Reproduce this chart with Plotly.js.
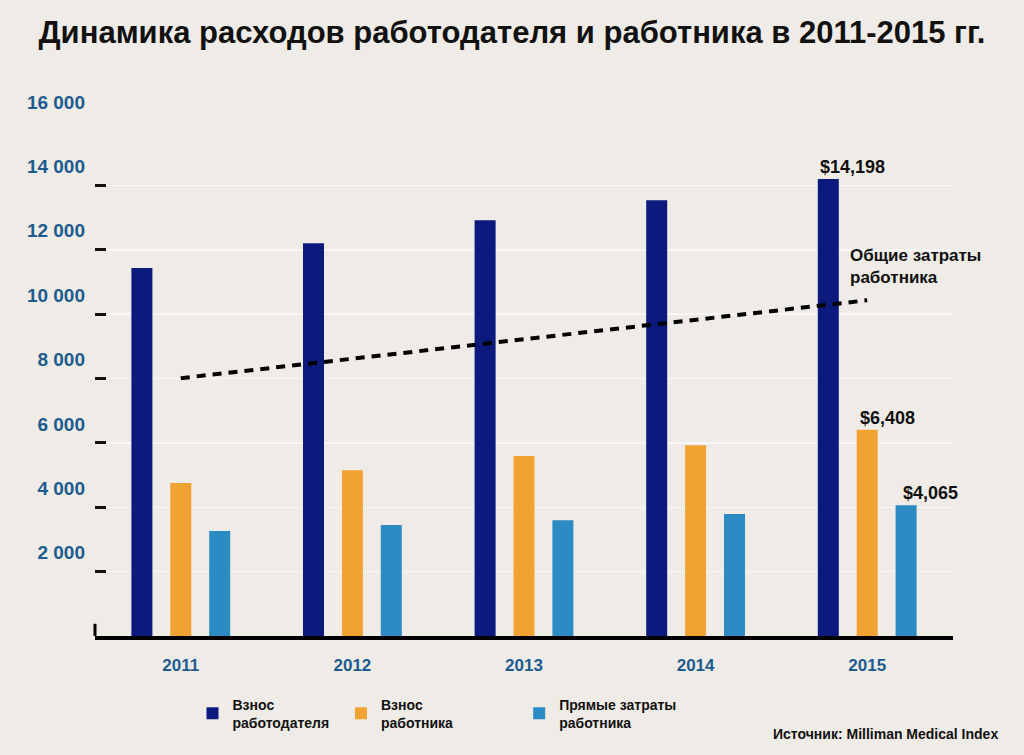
<!DOCTYPE html>
<html>
<head>
<meta charset="utf-8">
<script src="https://cdn.plot.ly/plotly-3.0.1.min.js"></script>
<style>
  html, body { margin: 0; padding: 0; background: #efece7; }
  #chart { width: 1024px; height: 755px; }
</style>
</head>
<body>
<div id="chart"></div>
<script>
// years and cost series (USD)
const years = ["2011", "2012", "2013", "2014", "2015"];
const employerContrib = [11430, 12200, 12920, 13540, 14198];
const employeeContrib = [4750, 5150, 5590, 5930, 6408];
const employeeOOP = [3260, 3450, 3600, 3790, 4065];
const employeeTotal = [8010, 8620, 9220, 9830, 10430];

const yTicks = [2000, 4000, 6000, 8000, 10000, 12000, 14000, 16000];
const yTickText = ["2 000", "4 000", "6 000", "8 000", "10 000", "12 000", "14 000", "16 000"];

const NAVY = "#0b1a7c";
const ORANGE = "#f0a233";
const LIGHTBLUE = "#2d8bc3";
const LABEL_BLUE = "#1d5b8e";
const FONT = "Liberation Sans, Arial, sans-serif";

const legendFont = { family: FONT, size: 14, color: "#111", weight: "bold" };

const traces = [
  {
    type: "bar",
    x: years,
    y: employerContrib,
    name: "Взнос<br>работодателя",
    marker: { color: NAVY },
    legend: "legend",
  },
  {
    type: "bar",
    x: years,
    y: employeeContrib,
    name: "Взнос<br>работника",
    marker: { color: ORANGE },
    legend: "legend2",
  },
  {
    type: "bar",
    x: years,
    y: employeeOOP,
    name: "Прямые затраты<br>работника",
    marker: { color: LIGHTBLUE },
    legend: "legend3",
  },
  {
    type: "scatter",
    mode: "lines",
    x: years,
    y: employeeTotal,
    line: { color: "#000", width: 4, dash: "9px,7px" },
    showlegend: false,
    hoverinfo: "skip",
  },
];

const last = years.length - 1;
const valueFont = { family: FONT, size: 18, color: "#111", weight: "bold" };

const legendBase = (x) => ({
  xref: "container",
  yref: "container",
  x: x,
  y: 0.055,
  yanchor: "middle",
  xanchor: "left",
  bgcolor: "rgba(0,0,0,0)",
  font: legendFont,
  itemwidth: 30,
});

const layout = {
  width: 1024,
  height: 755,
  paper_bgcolor: "#efece7",
  plot_bgcolor: "#efece7",
  margin: { l: 95, r: 71, t: 121, b: 119, autoexpand: false },
  title: {
    text: "<b>Динамика расходов работодателя и работника в 2011-2015 гг.</b>",
    x: 0.5,
    xanchor: "center",
    xref: "container",
    y: 0.957,
    yanchor: "middle",
    font: { family: FONT, size: 31, color: "#111" },
  },
  barmode: "group",
  bargap: 0.32,
  bargroupgap: 0.46,
  xaxis: {
    type: "category",
    range: [-0.5, 4.5],
    showline: true,
    linecolor: "#000",
    linewidth: 4,
    showgrid: false,
    ticks: "",
    tickangle: 0,
    ticklabelstandoff: 11,
    tickfont: { family: FONT, size: 17, color: LABEL_BLUE, weight: "bold" },
    fixedrange: true,
  },
  yaxis: {
    range: [0, 16000],
    tickvals: yTicks,
    ticktext: yTickText,
    ticks: "inside",
    ticklen: 11,
    tickwidth: 3,
    tickcolor: "#111",
    ticklabelshift: -19,
    ticklabelstandoff: 9,
    tickfont: { family: FONT, size: 19, color: LABEL_BLUE, weight: "bold" },
    showgrid: true,
    gridcolor: "rgba(255,255,255,0.6)",
    gridwidth: 1.5,
    zeroline: false,
    showline: false,
    fixedrange: true,
  },
  legend: legendBase(0.188),
  legend2: legendBase(0.333),
  legend3: legendBase(0.507),
  shapes: [
    { type: "line", xref: "paper", yref: "y", x0: 0, x1: 0, y0: 0, y1: 380, line: { color: "#000", width: 3 } },
  ],
  annotations: [
    { xref: "x", yref: "y", x: last, y: employerContrib[last], text: "$14,198", showarrow: false, xshift: -15, yanchor: "bottom", yshift: 0, font: valueFont },
    { xref: "x", yref: "y", x: last, y: employeeContrib[last], text: "$6,408", showarrow: false, xshift: 20, yanchor: "bottom", yshift: 0, font: valueFont },
    { xref: "x", yref: "y", x: last, y: employeeOOP[last], text: "$4,065", showarrow: false, xshift: 63, yanchor: "bottom", yshift: 0, font: valueFont },
    {
      xref: "x", yref: "y", x: last, y: employeeTotal[last], text: "Общие затраты<br>работника", showarrow: false,
      xanchor: "left", yanchor: "bottom", xshift: -19, yshift: 11, align: "left",
      font: { family: FONT, size: 17, color: "#111", weight: "bold" },
    },
    {
      xref: "paper", yref: "paper", x: 1.055, y: -0.19, xanchor: "right", yanchor: "middle",
      text: "Источник: Milliman Medical Index", showarrow: false,
      font: { family: FONT, size: 14, color: "#111", weight: "bold" },
    },
  ],
  showlegend: true,
};

Plotly.newPlot("chart", traces, layout, { displayModeBar: false, staticPlot: true });
</script>
</body>
</html>
